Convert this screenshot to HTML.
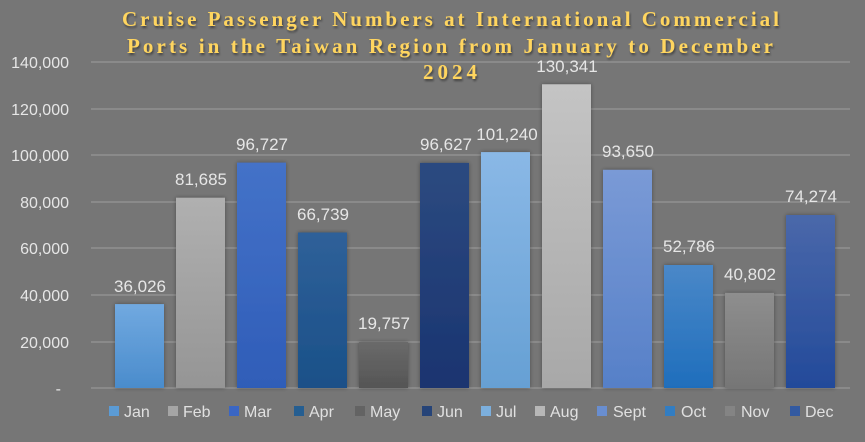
<!DOCTYPE html>
<html><head><meta charset="utf-8"><style>
html,body{margin:0;padding:0;background:#767676;}
svg{display:block;}
</style></head><body>
<svg width="865" height="442" viewBox="0 0 865 442" xmlns="http://www.w3.org/2000/svg">
<defs>
<filter id="ts" x="-5%" y="-20%" width="110%" height="150%"><feDropShadow dx="1" dy="2" stdDeviation="1" flood-color="#000" flood-opacity="0.45"/></filter>
<filter id="bs" x="-20%" y="-10%" width="140%" height="120%"><feDropShadow dx="0" dy="0" stdDeviation="2" flood-color="#000" flood-opacity="0.35"/></filter>
<linearGradient id="g1" x1="0" y1="0" x2="0" y2="1"><stop offset="0" stop-color="#71a9e0"/><stop offset="1" stop-color="#4a8ccc"/></linearGradient>
<linearGradient id="g2" x1="0" y1="0" x2="0" y2="1"><stop offset="0" stop-color="#b0b0b0"/><stop offset="1" stop-color="#959595"/></linearGradient>
<linearGradient id="g3" x1="0" y1="0" x2="0" y2="1"><stop offset="0" stop-color="#4472c8"/><stop offset="1" stop-color="#2f5db8"/></linearGradient>
<linearGradient id="g4" x1="0" y1="0" x2="0" y2="1"><stop offset="0" stop-color="#2f6099"/><stop offset="1" stop-color="#1a5088"/></linearGradient>
<linearGradient id="g5" x1="0" y1="0" x2="0" y2="1"><stop offset="0" stop-color="#6a6a6a"/><stop offset="1" stop-color="#555"/></linearGradient>
<linearGradient id="g6" x1="0" y1="0" x2="0" y2="1"><stop offset="0" stop-color="#2c4a80"/><stop offset="1" stop-color="#1a3470"/></linearGradient>
<linearGradient id="g7" x1="0" y1="0" x2="0" y2="1"><stop offset="0" stop-color="#8ab8e6"/><stop offset="1" stop-color="#66a0d4"/></linearGradient>
<linearGradient id="g8" x1="0" y1="0" x2="0" y2="1"><stop offset="0" stop-color="#c4c4c4"/><stop offset="1" stop-color="#a8a8a8"/></linearGradient>
<linearGradient id="g9" x1="0" y1="0" x2="0" y2="1"><stop offset="0" stop-color="#7a9ad6"/><stop offset="1" stop-color="#5680c8"/></linearGradient>
<linearGradient id="g10" x1="0" y1="0" x2="0" y2="1"><stop offset="0" stop-color="#4a88c8"/><stop offset="1" stop-color="#1f6ebc"/></linearGradient>
<linearGradient id="g11" x1="0" y1="0" x2="0" y2="1"><stop offset="0" stop-color="#8e8e8e"/><stop offset="1" stop-color="#767676"/></linearGradient>
<linearGradient id="g12" x1="0" y1="0" x2="0" y2="1"><stop offset="0" stop-color="#4a68aa"/><stop offset="1" stop-color="#234a9a"/></linearGradient>
</defs>
<rect width="865" height="442" fill="#767676"/>
<g stroke="#8a8a8a" stroke-width="2">
<line x1="91" y1="62" x2="850" y2="62"/><line x1="91" y1="109" x2="850" y2="109"/><line x1="91" y1="155" x2="850" y2="155"/><line x1="91" y1="202" x2="850" y2="202"/><line x1="91" y1="248" x2="850" y2="248"/><line x1="91" y1="295" x2="850" y2="295"/><line x1="91" y1="342" x2="850" y2="342"/><line x1="91" y1="388" x2="850" y2="388"/>
</g>
<g font-family="Liberation Sans, sans-serif" font-size="16" fill="#e6e6e6" text-anchor="end">
<text x="69" y="68">140,000</text><text x="69" y="115">120,000</text><text x="69" y="161">100,000</text><text x="69" y="208">80,000</text><text x="69" y="254">60,000</text><text x="69" y="301">40,000</text><text x="69" y="348">20,000</text><text x="61" y="394">-</text>
</g>
<g filter="url(#bs)">
<rect x="115" y="304.1" width="49" height="83.9" fill="url(#g1)"/>
<rect x="176" y="197.7" width="49" height="190.3" fill="url(#g2)"/>
<rect x="237" y="162.6" width="49" height="225.4" fill="url(#g3)"/>
<rect x="298" y="232.5" width="49" height="155.5" fill="url(#g4)"/>
<rect x="359" y="342" width="49" height="46" fill="url(#g5)"/>
<rect x="420" y="162.9" width="49" height="225.1" fill="url(#g6)"/>
<rect x="481" y="152.1" width="49" height="235.9" fill="url(#g7)"/>
<rect x="542" y="84.3" width="49" height="303.7" fill="url(#g8)"/>
<rect x="603" y="169.8" width="49" height="218.2" fill="url(#g9)"/>
<rect x="664" y="265" width="49" height="123" fill="url(#g10)"/>
<rect x="725" y="292.9" width="49" height="95.1" fill="url(#g11)"/>
<rect x="786" y="215" width="49" height="173" fill="url(#g12)"/>
</g>
<g font-family="Liberation Sans, sans-serif" font-size="17" fill="#e6e6e6" text-anchor="middle">
<text x="140" y="292">36,026</text><text x="201" y="185">81,685</text><text x="262" y="150">96,727</text><text x="323" y="220">66,739</text><text x="384" y="329">19,757</text><text x="446" y="150">96,627</text><text x="507" y="140">101,240</text><text x="567" y="72">130,341</text><text x="628" y="157">93,650</text><text x="689" y="252">52,786</text><text x="750" y="280">40,802</text><text x="811" y="202">74,274</text>
</g>
<g font-family="Liberation Sans, sans-serif" font-size="16" fill="#e0e0e0">
<rect x="109" y="406" width="10" height="10" fill="#5b9bd5"/><text x="124" y="417">Jan</text>
<rect x="168" y="406" width="10" height="10" fill="#a5a5a5"/><text x="183" y="417">Feb</text>
<rect x="229" y="406" width="10" height="10" fill="#3a66c4"/><text x="244" y="417">Mar</text>
<rect x="294" y="406" width="10" height="10" fill="#255e91"/><text x="309" y="417">Apr</text>
<rect x="355" y="406" width="10" height="10" fill="#636363"/><text x="370" y="417">May</text>
<rect x="422" y="406" width="10" height="10" fill="#264478"/><text x="437" y="417">Jun</text>
<rect x="481" y="406" width="10" height="10" fill="#7cafdd"/><text x="496" y="417">Jul</text>
<rect x="535" y="406" width="10" height="10" fill="#b7b7b7"/><text x="550" y="417">Aug</text>
<rect x="597" y="406" width="10" height="10" fill="#698ed0"/><text x="613" y="417">Sept</text>
<rect x="665" y="406" width="10" height="10" fill="#327dc2"/><text x="681" y="417">Oct</text>
<rect x="725" y="406" width="10" height="10" fill="#848484"/><text x="741" y="417">Nov</text>
<rect x="790" y="406" width="10" height="10" fill="#335aa1"/><text x="805" y="417">Dec</text>
</g>
<g font-family="Liberation Serif, serif" font-weight="bold" font-size="21" fill="#ffd55e" filter="url(#ts)">
<text x="122" y="26" textLength="657" lengthAdjust="spacing">Cruise Passenger Numbers at International Commercial</text>
<text x="127" y="53" textLength="646" lengthAdjust="spacing">Ports in the Taiwan Region from January to December</text>
<text x="423" y="79" textLength="54" lengthAdjust="spacing">2024</text>
</g>
</svg>
</body></html>
